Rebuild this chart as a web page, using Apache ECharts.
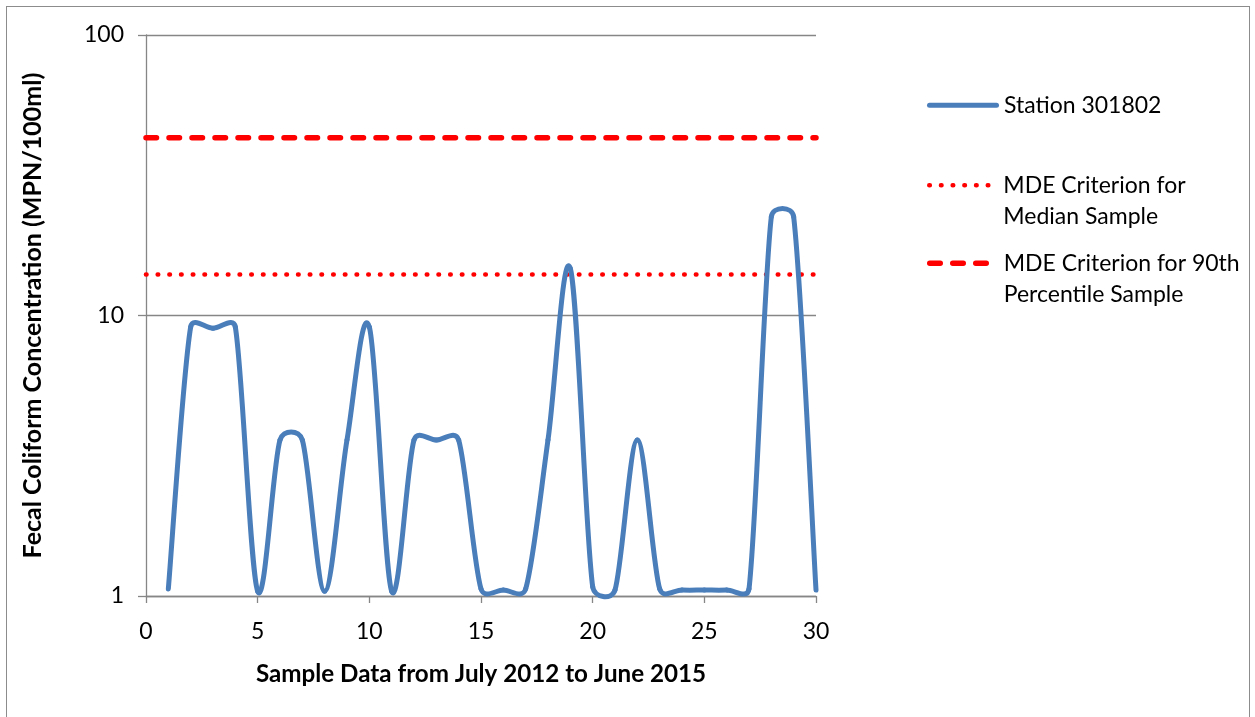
<!DOCTYPE html>
<html>
<head>
<meta charset="utf-8">
<script src="https://cdn.jsdelivr.net/npm/echarts@6/dist/echarts.min.js"></script>
<style>
  html, body { margin: 0; padding: 0; background: #fff; }
  #frame { position: absolute; left: 6px; top: 6px; width: 1244px; height: 720px; border: 1.5px solid #8c8c8c; box-sizing: border-box; }
  #chart { position: absolute; left: 0; top: 0; width: 1255px; height: 717px; }
</style>
</head>
<body>
<div id="frame"></div>
<div id="chart"></div>
<script>
// ---- Data ----
const sampleNumbers = [1,2,3,4,5,6,7,8,9,10,11,12,13,14,15,16,17,18,19,20,21,22,23,24,25,26,27,28,29,30];
const stationValues = [1.06,9.1,9.0,9.1,1.04,3.6,3.6,1.04,3.6,9.1,1.04,3.6,3.6,3.6,1.06,1.05,1.06,3.6,14.7,1.08,1.05,3.6,1.06,1.05,1.05,1.05,1.06,22.5,22.5,1.05];
const criterionX = [0, 30];
const medianCriterion = [14, 14];
const p90Criterion = [43, 43];
const xTicks = { min: 0, max: 30, interval: 5 };
const yTicks = { min: 1, max: 100 };
const seriesNames = ['Station 301802', 'MDE Criterion for\nMedian Sample', 'MDE Criterion for 90th\nPercentile Sample'];
const xTitle = 'Sample Data from July 2012 to June 2015';
const yTitle = 'Fecal Coliform Concentration (MPN/100ml)';

const FONT = 'Lato';
const BLUE = '#4A7EBB';
const RED = '#FF0000';
const chart = echarts.init(document.getElementById('chart'), null, { renderer: 'canvas' });

const pair = (xs, ys) => xs.map((x, i) => [x, ys[i]]);
const legendText = { fontFamily: FONT, fontSize: 23, color: '#000', lineHeight: 31.5, padding: [0, 0, 0, 0] };

// Excel-like smoothed line: Bezier segments between consecutive points,
// control points from neighbouring points (tension 1/6, limited to half segment length)
function ctrl(prev, next, segLen) {
  const tx = next[0] - prev[0], ty = next[1] - prev[1];
  const tl = Math.hypot(tx, ty);
  if (tl === 0) return [0, 0];
  let f = 1 / 6;
  if (tl * f > segLen / 2) f = (segLen / 2) / tl;
  return [tx * f, ty * f];
}
function renderSmooth(params, api) {
  const i = params.dataIndex;
  const n = sampleNumbers.length;
  if (i >= n - 1) return null;
  const P = k => {
    const j = Math.max(0, Math.min(n - 1, k));
    return api.coord([sampleNumbers[j], stationValues[j]]);
  };
  const p0 = P(i - 1), p1 = P(i), p2 = P(i + 1), p3 = P(i + 2);
  const seg = Math.hypot(p2[0] - p1[0], p2[1] - p1[1]);
  const t1 = ctrl(p0, p2, seg);
  const t2 = ctrl(p1, p3, seg);
  return {
    type: 'bezierCurve',
    shape: { x1: p1[0], y1: p1[1], x2: p2[0], y2: p2[1], cpx1: p1[0] + t1[0], cpy1: p1[1] + t1[1], cpx2: p2[0] - t2[0], cpy2: p2[1] - t2[1] },
    style: { stroke: BLUE, lineWidth: 5, fill: null, lineCap: 'round', lineJoin: 'round' }
  };
}

const option = {
  animation: false,
  grid: { left: 146, top: 35, width: 670, height: 561, containLabel: false },
  legend: [
    { data: [{ name: seriesNames[0], icon: 'path://M2.5,0 L69.5,0 A2.5,2.5 0 0 1 69.5,5 L2.5,5 A2.5,2.5 0 0 1 2.5,0 Z', itemStyle: { color: BLUE } }],
      left: 927, top: 89.5, itemWidth: 72, itemHeight: 5, textStyle: legendText, padding: 0, selectedMode: false },
    { data: [seriesNames[1]], left: 927, top: 138, itemWidth: 64, itemHeight: 14,
      formatter: n => '\n' + n,
      textStyle: Object.assign({}, legendText, { padding: [0, 0, 0, 5] }), padding: 0, selectedMode: false,
      itemStyle: { color: 'transparent', borderWidth: 0 }, lineStyle: { width: 4.6 } },
    { data: [seriesNames[2]], left: 927, top: 216, itemWidth: 64, itemHeight: 14,
      formatter: n => '\n' + n,
      textStyle: Object.assign({}, legendText, { padding: [0, 0, 0, 5] }), padding: 0, selectedMode: false,
      itemStyle: { color: 'transparent', borderWidth: 0 }, lineStyle: { width: 5.5 } }
  ],
  xAxis: {
    type: 'value', min: xTicks.min, max: xTicks.max, interval: xTicks.interval,
    name: xTitle, nameLocation: 'middle', nameGap: 66,
    nameTextStyle: { fontFamily: FONT, fontWeight: 'bold', fontSize: 24.2, color: '#000' },
    axisLine: { show: true, onZero: false, lineStyle: { color: '#868686', width: 1.3 } },
    axisTick: { show: true, inside: false, length: 7, lineStyle: { color: '#868686', width: 1.3 } },
    axisLabel: { fontFamily: FONT, fontSize: 23, color: '#000', margin: 24 },
    splitLine: { show: false }
  },
  yAxis: {
    type: 'log', logBase: 10, min: yTicks.min, max: yTicks.max,
    name: yTitle, nameLocation: 'middle', nameGap: 101, nameRotate: 90,
    nameTextStyle: { fontFamily: FONT, fontWeight: 'bold', fontSize: 25, color: '#000' },
    axisLine: { show: true, lineStyle: { color: '#868686', width: 1.3 } },
    axisTick: { show: true, inside: false, length: 8, lineStyle: { color: '#868686', width: 1.3 } },
    axisLabel: { fontFamily: FONT, fontSize: 23, color: '#000', margin: 22 },
    splitLine: { show: true, lineStyle: { color: '#868686', width: 1.3 } },
    minorTick: { show: false }
  },
  series: [
    {
      name: seriesNames[0], type: 'custom', data: pair(sampleNumbers, stationValues),
      encode: { x: 0, y: 1 }, renderItem: renderSmooth, clip: false,
      itemStyle: { color: BLUE }, z: 5
    },
    {
      name: seriesNames[1], type: 'line', data: pair(criterionX, medianCriterion),
      showSymbol: false, symbol: 'none',
      lineStyle: { color: RED, width: 4.6, type: [0.5, 11.2], cap: 'round' },
      itemStyle: { color: RED }, z: 4
    },
    {
      name: seriesNames[2], type: 'line', data: pair(criterionX, p90Criterion),
      showSymbol: false, symbol: 'none',
      lineStyle: { color: RED, width: 5.5, type: [10.5, 12.5], cap: 'round' },
      itemStyle: { color: RED }, z: 4
    }
  ]
};
chart.setOption(option);
</script>
</body>
</html>
